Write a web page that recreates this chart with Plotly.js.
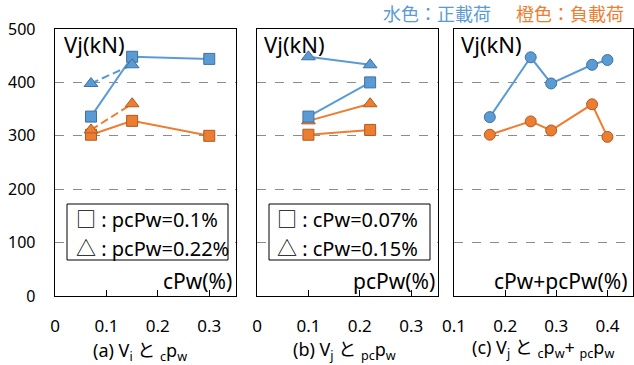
<!DOCTYPE html>
<html><head><meta charset="utf-8">
<script src="https://cdn.plot.ly/plotly-3.0.1.min.js"></script>
<style>html,body{margin:0;padding:0;background:#fff}</style>
</head><body><div id="chart" style="width:634px;height:365px"></div>
<script>
// ---- data ----
// panel (a): x = cPw(%)
var aXSq = [0.07, 0.15, 0.30];      // pcPw = 0.1%
var aPosSq = [336, 448, 444];
var aNegSq = [302, 328, 300];
var aXTri = [0.07, 0.15];           // pcPw = 0.22%
var aPosTri = [398, 433];
var aNegTri = [311, 360];
// panel (b): x = pcPw(%)
var bX = [0.10, 0.22];
var bPosSq = [336, 400];            // cPw = 0.07%
var bNegSq = [302, 311];
var bPosTri = [448, 433];           // cPw = 0.15%
var bNegTri = [328, 360];
// panel (c): x = cPw + pcPw(%)
var cX = [0.17, 0.25, 0.29, 0.37, 0.40];
var cPos = [335, 447, 398, 433, 442];
var cNeg = [302, 327, 310, 359, 298];
// tick labels
var yTicks = [0, 100, 200, 300, 400, 500];
var abTicks = [0, 0.1, 0.2, 0.3];
var cTicks = [0.1, 0.2, 0.3, 0.4];

var BLUE = '#5B9BD5', BLUE_E = '#41719C', ORG = '#ED7D31', ORG_E = '#AE5A21';
var W = 634, H = 365;
function px(x){return x/W;} function py(y){return 1-y/H;}

function tr(x, y, xa, ya, col, edge, sym, dash, size){
  return {x:x, y:y, xaxis:xa, yaxis:ya, type:'scatter', mode:'lines+markers',
    line:{color:col, width:2, dash:dash||'solid'},
    marker:{symbol:sym, size:size, color:col, line:{color:edge, width:1}},
    showlegend:false, hoverinfo:'skip'};
}
var DASH = '8px,4px';
var data = [
  tr(aXSq, aNegSq, 'x','y', ORG, ORG_E, 'square', 'solid', 11),
  tr(aXTri, aNegTri, 'x','y', ORG, ORG_E, 'triangle-up', DASH, 12),
  tr(aXSq, aPosSq, 'x','y', BLUE, BLUE_E, 'square', 'solid', 11),
  tr(aXTri, aPosTri, 'x','y', BLUE, BLUE_E, 'triangle-up', DASH, 12),
  tr(bX, bNegSq, 'x2','y2', ORG, ORG_E, 'square', 'solid', 11),
  tr(bX, bNegTri, 'x2','y2', ORG, ORG_E, 'triangle-up', 'solid', 12),
  tr(bX, bPosSq, 'x2','y2', BLUE, BLUE_E, 'square', 'solid', 11),
  tr(bX, bPosTri, 'x2','y2', BLUE, BLUE_E, 'triangle-up', 'solid', 12),
  tr(cX, cNeg, 'x3','y3', ORG, ORG_E, 'circle', 'solid', 11),
  tr(cX, cPos, 'x3','y3', BLUE, BLUE_E, 'circle', 'solid', 11)
];

var FONT = 'Noto Sans, Noto Sans CJK JP, sans-serif';
var yDom = [py(296), py(29)];
function xax(dom, rng, ticks){
  return {domain:dom, range:rng, tickvals:ticks, ticktext:ticks.map(String),
    ticks:'inside', ticklen:6, tickcolor:'#000', showgrid:false, zeroline:false,
    showline:true, mirror:true, linecolor:'#000', linewidth:1.3,
    tickfont:{size:17, color:'#000', family:FONT}, ticklabelstandoff:14, fixedrange:true};
}
function yax(anchor, labels){
  return {domain:yDom, range:[0,500], tickvals:yTicks, ticktext:yTicks.map(String), anchor:anchor,
    showticklabels:labels, ticks:'', showgrid:true, gridcolor:'#8c8c8c', griddash:'dash', gridwidth:1,
    zeroline:false, showline:true, mirror:true, linecolor:'#000', linewidth:1.3,
    tickfont:{size:16, color:'#000', family:FONT}, ticklabelstandoff:15, fixedrange:true};
}

function ann(text, x, y, size, col, xanchor){
  return {text:text, x:px(x), y:py(y), xref:'paper', yref:'paper', showarrow:false,
    xanchor:xanchor||'center', yanchor:'middle', font:{size:size, color:col||'#000', family:FONT}};
}
var SQ = '<span style="font-family:\'Noto Sans CJK JP\'">□</span>';
var TRI = '<span style="font-family:\'Noto Sans CJK JP\'">△</span>';
var annotations = [
  ann('Vj(kN)', 62, 44, 22, '#000', 'left'),
  ann('Vj(kN)', 262, 44, 22, '#000', 'left'),
  ann('Vj(kN)', 459, 44, 22, '#000', 'left'),
  ann(SQ + ' : pcPw=0.1%', 74, 218, 20, '#000', 'left'),
  ann(TRI + ' : pcPw=0.22%', 74, 247, 20, '#000', 'left'),
  ann(SQ + ' : cPw=0.07%', 275, 218, 20, '#000', 'left'),
  ann(TRI + ' : cPw=0.15%', 275, 247, 20, '#000', 'left'),
  ann('cPw(%)', 234, 281, 21, '#000', 'right'),
  ann('pcPw(%)', 437, 281, 21, '#000', 'right'),
  ann('cPw+pcPw(%)', 630, 281, 21, '#000', 'right'),
  ann('(a) V<sub>i</sub> と <sub>c</sub>p<sub>w</sub>', 140, 351, 18),
  ann('(b) V<sub>j</sub> と <sub>pc</sub>p<sub>w</sub>', 345, 350, 18),
  ann('(c) V<sub>j</sub> と <sub>c</sub>p<sub>w</sub>+ <sub>pc</sub>p<sub>w</sub>', 543, 348, 18),
  ann('水色：正載荷', 437, 14, 18, BLUE),
  ann('橙色：負載荷', 570, 14, 18, ORG)
];
var shapes = [
  {type:'rect', xref:'paper', yref:'paper', x0:px(67), x1:px(228), y0:py(260), y1:py(204),
   line:{color:'#000', width:1}, fillcolor:'#fff', layer:'above'},
  {type:'rect', xref:'paper', yref:'paper', x0:px(269), x1:px(430), y0:py(260), y1:py(204),
   line:{color:'#000', width:1}, fillcolor:'#fff', layer:'above'}
];

var layout = {
  width:W, height:H, margin:{l:0, r:0, t:0, b:0},
  paper_bgcolor:'#fff', plot_bgcolor:'#fff', showlegend:false,
  font:{family:FONT, color:'#000'},
  xaxis: xax([px(55), px(236)], [0, 0.352], abTicks),
  xaxis2: xax([px(257), px(438)], [0, 0.352], abTicks),
  xaxis3: xax([px(454), px(633)], [0.1, 0.45], cTicks),
  yaxis: yax('x', true),
  yaxis2: yax('x2', false),
  yaxis3: yax('x3', false),
  annotations:annotations, shapes:shapes
};
layout.xaxis.anchor='y'; layout.xaxis2.anchor='y2'; layout.xaxis3.anchor='y3';
Plotly.newPlot('chart', data, layout, {staticPlot:true});
</script></body></html>
